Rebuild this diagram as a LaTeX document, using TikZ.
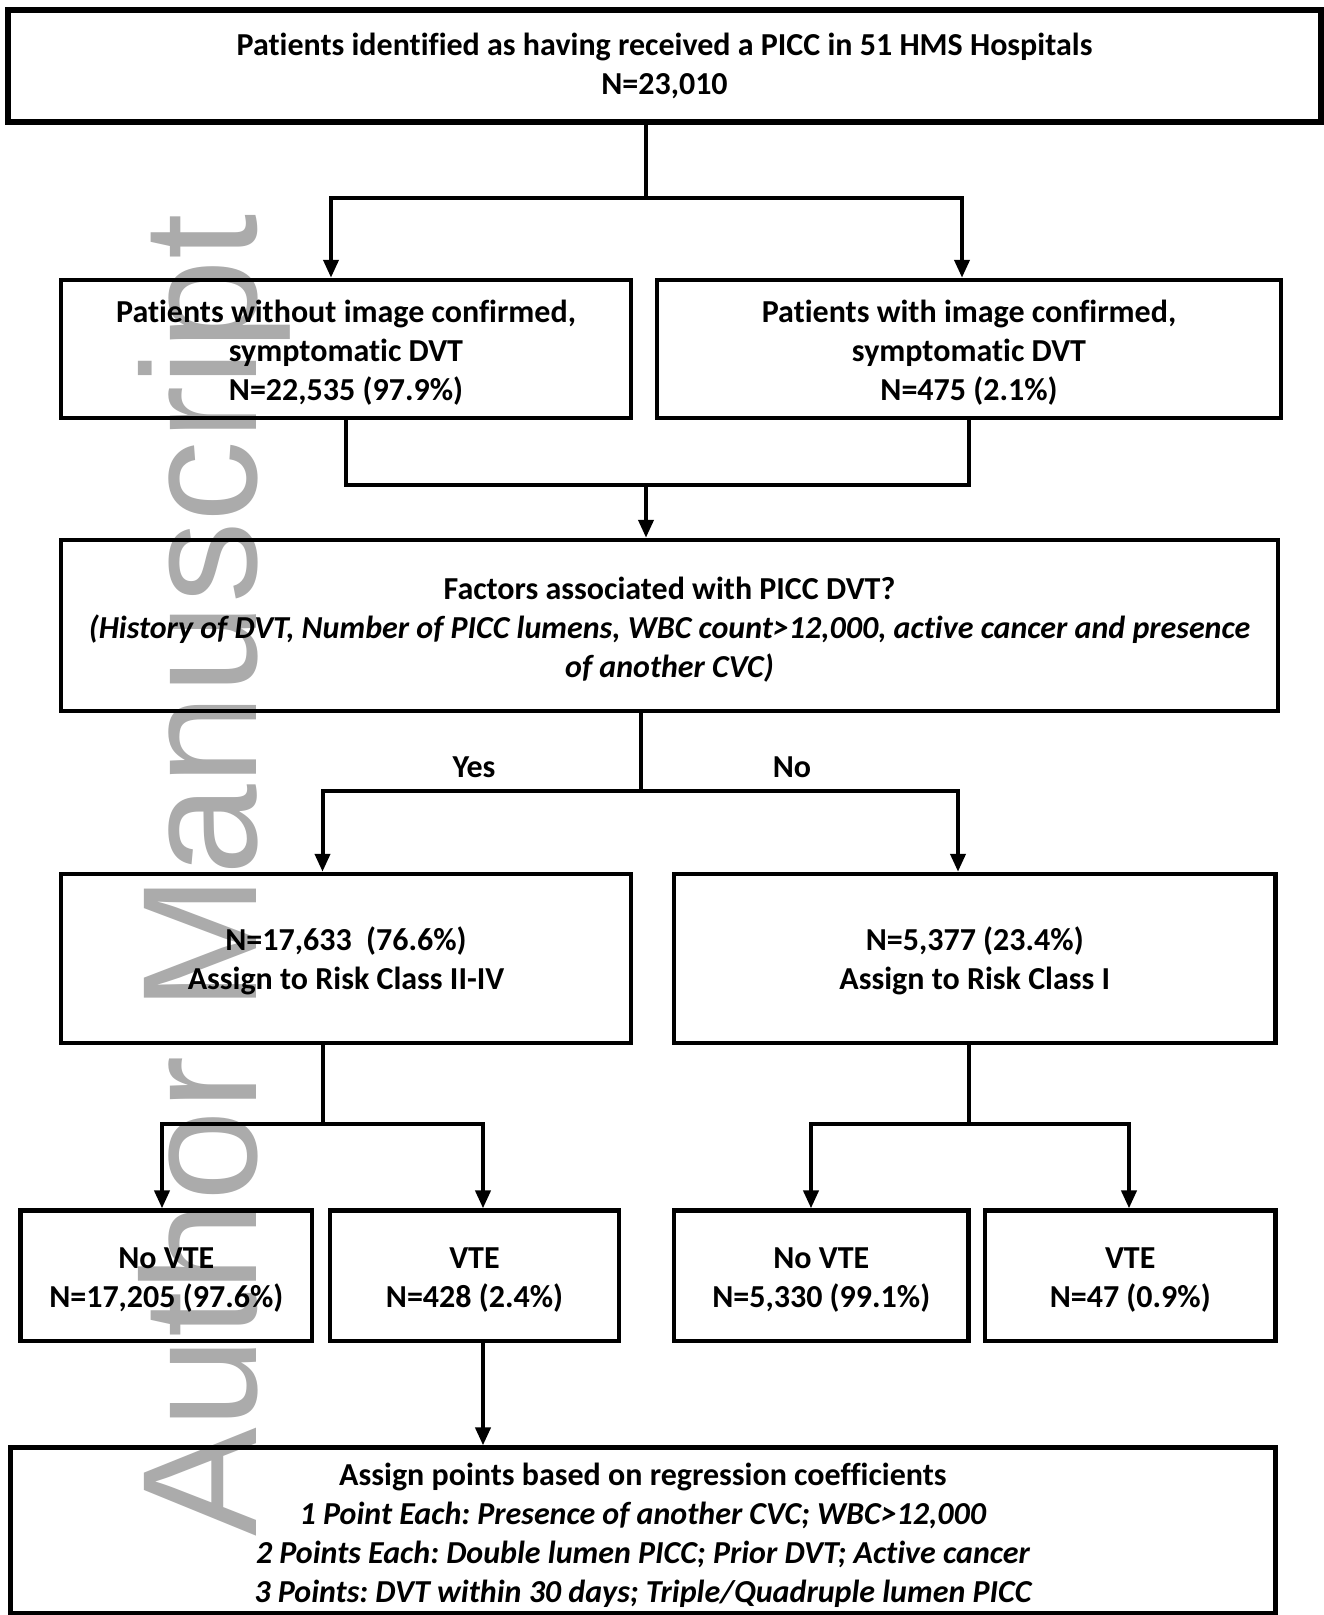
\documentclass[tikz,border=0pt]{standalone}
\usepackage{fontspec}
\setmainfont{Carlito}[Ligatures=NoCommon]
\newfontfamily\wmfont{Liberation Sans}
\usetikzlibrary{arrows.meta}
\frenchspacing
\begin{document}
\begin{tikzpicture}[x=1pt,y=-1pt,
 box/.style={draw, line width=4.5pt, rectangle, inner sep=0pt, font=\fontsize{32}{39}\selectfont\bfseries\frenchspacing, align=center},
 ln/.style={line width=4pt},
 arr/.style={line width=4pt, -{Triangle[length=18pt,width=15pt]}},
 lbl/.style={font=\fontsize{32}{39}\selectfont\bfseries, inner sep=0pt}
]
\useasboundingbox (0,0) rectangle (1324,1615);
\fill[white] (0,0) rectangle (1324,1615);
% watermark
\node[font=\wmfont\fontsize{163}{163}\selectfont, text=black!33, rotate=90, anchor=base west, inner sep=0pt] (wm) at (256,1537) {Author Manuscript};

\node[box, line width=5.5pt, minimum width=1313pt, minimum height=112pt] (top) at (664.5,66)
 {Patients identified as having received a PICC in 51 HMS Hospitals\\N=23,010};
\node[box, minimum width=570pt, minimum height=138pt] (L2) at (346,349)
 {\rule{0pt}{30pt}Patients without image confirmed,\\symptomatic DVT\\N=22,535 (97.9\%)};
\node[box, minimum width=624pt, minimum height=138pt] (R2) at (969,349)
 {\rule{0pt}{30pt}Patients with image confirmed,\\symptomatic DVT\\N=475 (2.1\%)};
\node[box, minimum width=1217pt, minimum height=171pt] (B3) at (669.5,625.5)
 {\rule{0pt}{30pt}Factors associated with PICC DVT?\\\itshape (History of DVT, Number of PICC lumens, WBC count>12,000, active cancer and presence\\\itshape of another CVC)};
\node[box, minimum width=570pt, minimum height=169pt] (nL) at (346,958.5)
 {\rule{0pt}{28pt}N=17,633~~(76.6\%)\\Assign to Risk Class II-IV};
\node[box, minimum width=601.5pt, minimum height=169pt] (nR) at (974.75,958.5)
 {\rule{0pt}{28pt}N=5,377 (23.4\%)\\Assign to Risk Class I};
\node[box, minimum width=291.4pt, minimum height=130.4pt] (vA) at (166.3,1275.8)
 {\rule{0pt}{30pt}No VTE\\N=17,205 (97.6\%)};
\node[box, minimum width=289pt, minimum height=130.4pt] (vB) at (474.5,1275.8)
 {\rule{0pt}{30pt}VTE\\N=428 (2.4\%)};
\node[box, minimum width=294.5pt, minimum height=130.4pt] (vC) at (821.25,1275.8)
 {\rule{0pt}{30pt}No VTE\\N=5,330 (99.1\%)};
\node[box, minimum width=290.5pt, minimum height=130.4pt] (vD) at (1130.25,1275.8)
 {\rule{0pt}{30pt}VTE\\N=47 (0.9\%)};
\node[box, minimum width=1265.2pt, minimum height=165.4pt] (B6) at (642.9,1530.3)
 {\rule{0pt}{32pt}Assign points based on regression coefficients\\
 \itshape 1 Point Each: Presence of another CVC; WBC>12,000\\
 \itshape 2 Points Each: Double lumen PICC; Prior DVT; Active cancer\\
 \itshape 3 Points: DVT within 30 days; Triple/Quadruple lumen PICC};

\node[lbl] (yes) at (474,767.5) {Yes};
\node[lbl] (no) at (792,767.5) {No};

% level 1
\coordinate (j1) at (646,198);
\coordinate (a1) at (331,198);
\coordinate (a2) at (962,198);
\draw[ln] (top.south -| j1) -- (j1);
\draw[arr] (j1) -| (a1 |- L2.north);
\draw[arr] (j1) -| (a2 |- R2.north);
% level 2
\coordinate (j2) at (646,485);
\draw[ln] (L2.south) |- (R2.south |- j2) -- (R2.south);
\draw[arr] (j2) -- (j2 |- B3.north);
% level 3
\coordinate (j3) at (641,791);
\coordinate (b1) at (322.5,791);
\coordinate (b2) at (958,791);
\draw[ln] (B3.south -| j3) -- (j3);
\draw[arr] (j3) -| (b1 |- nL.north);
\draw[arr] (j3) -| (b2 |- nR.north);
% level 4
\coordinate (j4) at (322.5,1124);
\coordinate (c1) at (162,1124);
\coordinate (c2) at (483,1124);
\draw[ln] (nL.south -| j4) -- (j4);
\draw[arr] (j4) -| (c1 |- vA.north);
\draw[arr] (j4) -| (c2 |- vB.north);
\coordinate (j5) at (968.5,1124);
\coordinate (c3) at (811,1124);
\coordinate (c4) at (1129,1124);
\draw[ln] (nR.south -| j5) -- (j5);
\draw[arr] (j5) -| (c3 |- vC.north);
\draw[arr] (j5) -| (c4 |- vD.north);
% level 5
\draw[arr] (vB.south -| c2) -- (c2 |- B6.north);
\end{tikzpicture}
\end{document}
